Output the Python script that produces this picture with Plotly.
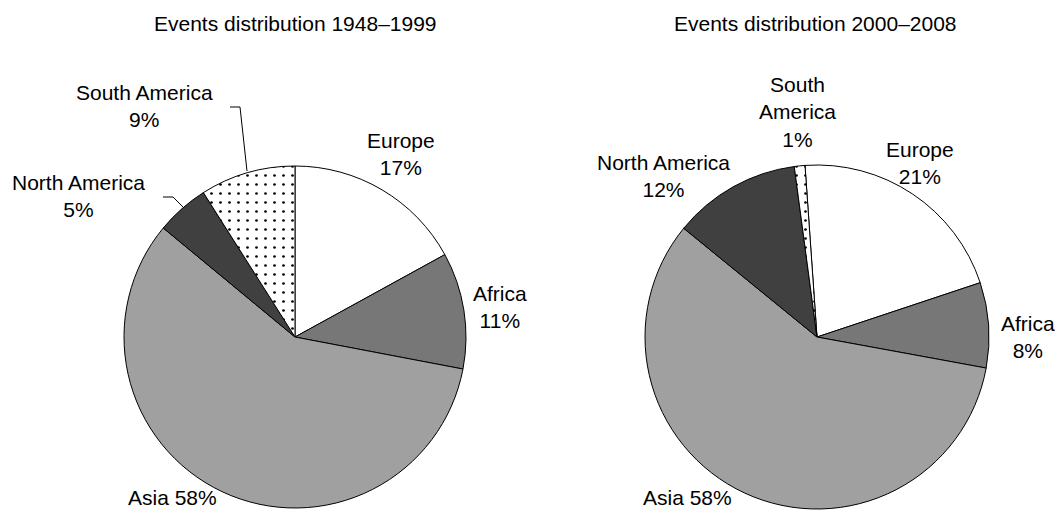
import plotly.graph_objects as go

W, H = 1057, 521

regions = ["Europe", "Africa", "Asia", "North America", "South America"]
share_1948_1999 = [17, 11, 58, 5, 9]
share_2000_2008 = [21, 8, 58, 12, 1]
titles = ["Events distribution 1948\u20131999", "Events distribution 2000\u20132008"]

colors = ["#ffffff", "#777777", "#a0a0a0", "#404040", "#ffffff"]
shapes_pat = ["", "", "", "", "."]
FONT = "Liberation Sans, Arial, sans-serif"


def px(x):
    return x / W


def py(y):
    return 1 - y / H


fig = go.Figure()

pie_boxes = [
    (124, 466, 166, 508, 0),
    (645, 989, 165, 509, -4),
]
for vals, (x0, x1, y0, y1, rot) in zip([share_1948_1999, share_2000_2008], pie_boxes):
    fig.add_trace(go.Pie(
        labels=regions,
        values=vals,
        sort=False,
        direction="clockwise",
        rotation=rot,
        textinfo="none",
        hoverinfo="label+percent",
        showlegend=False,
        domain=dict(x=[px(x0), px(x1)], y=[py(y1), py(y0)]),
        marker=dict(
            colors=colors,
            line=dict(color="black", width=1),
            pattern=dict(shape=shapes_pat, fgcolor="black", size=9, solidity=0.07),
        ),
    ))

# label text positions (pixel centres)
labels_left = [
    ("Europe<br>17%", 401, 154),
    ("Africa<br>11%", 500, 307),
    ("Asia 58%", 172, 497),
    ("North America<br>5%", 78, 196),
    ("South America<br>9%", 144, 106),
]
labels_right = [
    ("Europe<br>21%", 920, 163),
    ("Africa<br>8%", 1028, 337),
    ("Asia 58%", 687, 497),
    ("North America<br>12%", 663, 176),
    ("South<br>America<br>1%", 797, 112),
]
annotations = []
for txt, x, y in labels_left + labels_right:
    annotations.append(dict(
        text=txt, x=px(x), y=py(y), xref="paper", yref="paper",
        xanchor="center", yanchor="middle", showarrow=False,
        font=dict(family=FONT, size=21, color="black"), align="center",
    ))
for txt, x in zip(titles, [295, 815]):
    annotations.append(dict(
        text=txt, x=px(x), y=py(23), xref="paper", yref="paper",
        xanchor="center", yanchor="middle", showarrow=False,
        font=dict(family=FONT, size=21, color="black"),
    ))


def path(points):
    return "M " + " L ".join(f"{px(a):.5f},{py(b):.5f}" for a, b in points)


leaders = [
    [(230, 107), (240, 107), (247, 171)],
    [(163, 197), (173, 197), (183, 207)],
]
shapes = [dict(type="path", xref="paper", yref="paper", path=path(p),
               line=dict(color="black", width=1)) for p in leaders]

fig.update_layout(
    width=W, height=H,
    margin=dict(l=0, r=0, t=0, b=0),
    paper_bgcolor="white", plot_bgcolor="white",
    annotations=annotations,
    shapes=shapes,
    font=dict(family=FONT),
)

fig.write_html(
    "out.html",
    config={"displayModeBar": False},
    post_script="document.body.style.margin='0';document.body.style.overflow='hidden';",
)
